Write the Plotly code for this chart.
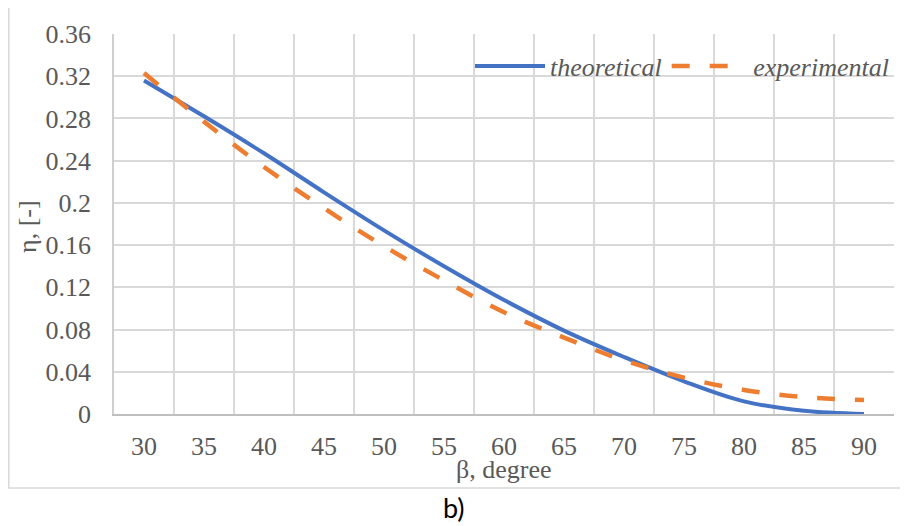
import plotly.graph_objects as go

beta = [30, 35, 40, 45, 50, 55, 60, 65, 70, 75, 80, 85, 90]
theoretical = [0.316, 0.282, 0.247, 0.210, 0.174, 0.140, 0.108, 0.079, 0.054, 0.031, 0.012, 0.003, 0.0]
experimental = [0.323, 0.277, 0.234, 0.195, 0.159, 0.1265, 0.0964, 0.0724, 0.0508, 0.0345, 0.0228, 0.016, 0.0133]
y_ticks = [0, 0.04, 0.08, 0.12, 0.16, 0.2, 0.24, 0.28, 0.32, 0.36]
y_tick_labels = ["0", "0.04", "0.08", "0.12", "0.16", "0.2", "0.24", "0.28", "0.32", "0.36"]

# The page body has an 8px margin, so the figure is drawn 8px right/down.
OFF = 8
W, H = 908 - OFF, 526 - OFF
# plot area in page pixels (reference)
L, R, T, B = 114, 894, 24, 414
pw, ph = R - L, B - T


def px(x):
    return (x - L) / pw


def py(y):
    return (B - y) / ph


SERIF = "Liberation Serif, Times New Roman, serif"
GRAY = "#595959"

fig = go.Figure()
fig.add_trace(go.Scatter(
    x=beta, y=theoretical, mode="lines", name="theoretical",
    line=dict(color="#4472C4", width=4, shape="spline"),
))
fig.add_trace(go.Scatter(
    x=beta, y=experimental, mode="lines", name="\u00a0experimental",
    line=dict(color="#ED7D31", width=4.5, shape="spline", dash="18px,20px"),
))

fig.update_layout(
    width=W, height=H,
    margin=dict(l=L - OFF, r=908 - R, t=T - OFF, b=526 - B, pad=0),
    paper_bgcolor="white", plot_bgcolor="white",
    font=dict(family=SERIF, size=26, color=GRAY),
    showlegend=True,
    legend=dict(
        orientation="h", x=1.0, xanchor="right", y=py(57), yanchor="middle",
        font=dict(family=SERIF, size=26, color=GRAY, style="italic"),
        bgcolor="rgba(0,0,0,0)", itemwidth=70, tracegroupgap=0,
    ),
    xaxis=dict(
        range=[27.5, 92.5], tickvals=beta, ticktext=[str(b) for b in beta],
        showgrid=False, zeroline=False, ticks="",
        showline=True, linecolor="#BFBFBF", linewidth=1.5,
        ticklabelstandoff=8,
        tickfont=dict(family=SERIF, size=26, color=GRAY),
        minor=dict(tick0=27.5, dtick=5, showgrid=True, gridcolor="#D9D9D9", gridwidth=1.5, ticks=""),
    ),
    yaxis=dict(
        range=[0, 0.36], tickvals=y_ticks, ticktext=y_tick_labels,
        showgrid=True, gridcolor="#D9D9D9", gridwidth=1.5, zeroline=False, ticks="",
        showline=True, linecolor="#CFCFCF", linewidth=1.5,
        ticklabelstandoff=16,
        tickfont=dict(family=SERIF, size=26, color=GRAY),
    ),
    shapes=[
        dict(type="rect", xref="paper", yref="paper",
             x0=px(8.8), x1=px(915), y0=py(490), y1=py(-10),
             line=dict(color="#D9D9D9", width=1.5), fillcolor="rgba(0,0,0,0)", layer="below"),
    ],
    annotations=[
        dict(text="β, degree", xref="paper", yref="paper", x=px(504), y=py(471),
             xanchor="center", yanchor="middle", showarrow=False,
             font=dict(family=SERIF, size=26, color=GRAY)),
        dict(text="η, [-]", xref="paper", yref="paper", x=px(28), y=py(222),
             xanchor="center", yanchor="middle", showarrow=False, textangle=-90,
             font=dict(family=SERIF, size=26, color=GRAY)),
        dict(text="b)", xref="paper", yref="paper", x=px(454), y=py(510),
             xanchor="center", yanchor="middle", showarrow=False,
             font=dict(family="Lato, Open Sans, sans-serif", size=27, color="black")),
    ],
)

fig.write_html("out.html")
